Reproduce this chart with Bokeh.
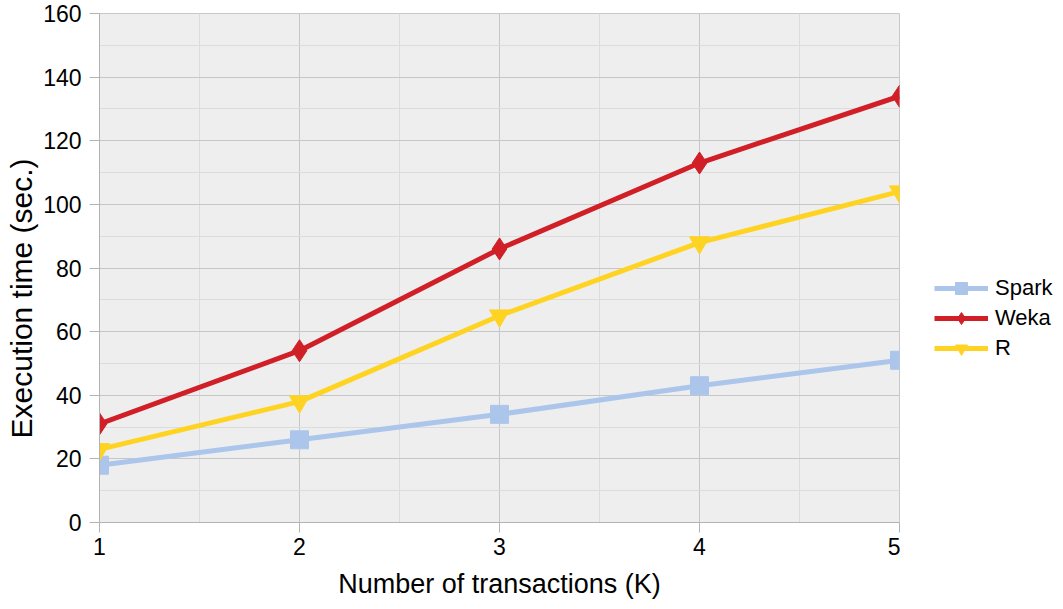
from bokeh.plotting import figure
from bokeh.layouts import row
from bokeh.models import Legend, LegendItem, FixedTicker, ColumnDataSource, Title
from bokeh.embed import file_html
from bokeh.resources import INLINE

transactions = [1, 2, 3, 4, 5]
spark = [18, 26, 34, 43, 51]
weka = [31, 54, 86, 113, 134]
r_vals = [23, 38, 65, 88, 104]
y_ticks = [0, 20, 40, 60, 80, 100, 120, 140, 160]
series_names = ["Spark", "Weka", "R"]

FONT = "Liberation Sans"
c_spark = "#abc6ea"
c_weka = "#d01f26"
c_r = "#ffd322"

p = figure(width=900, height=601, output_backend="svg", toolbar_location=None,
           x_range=(1, 5), y_range=(0, 160),
           min_border_left=99, min_border_top=13, min_border_bottom=78, min_border_right=1)
p.background_fill_color = "#eeeeee"
p.border_fill_color = "white"
p.outline_line_color = "#c8c8c8"

p.xaxis.ticker = FixedTicker(ticks=transactions, minor_ticks=[1.5, 2.5, 3.5, 4.5])
p.yaxis.ticker = FixedTicker(ticks=y_ticks, minor_ticks=list(range(10, 160, 20)))

for ax in (p.xaxis, p.yaxis):
    ax.axis_line_color = "#b3b3b3"
    ax.major_tick_line_color = "#b3b3b3"
    ax.major_tick_in = 0
    ax.major_tick_out = 10
    ax.minor_tick_line_color = None
    ax.major_label_text_font = FONT
    ax.major_label_text_font_size = "23px"
    ax.major_label_text_color = "black"
    ax.axis_label_text_font = FONT
    ax.axis_label_text_font_style = "normal"
    ax.axis_label_text_color = "black"

p.xaxis.axis_label = "Number of transactions (K)"
p.xaxis.axis_label_text_font_size = "27px"
p.xaxis.axis_label_standoff = 11
p.xaxis.major_label_standoff = 5
p.yaxis.major_label_standoff = 8

ylab = Title(text="Execution time (sec.)", align="left", offset=84,
             text_font=FONT, text_font_size="30px", text_font_style="normal",
             text_color="black", standoff=5)
p.add_layout(ylab, "left")

p.xgrid.grid_line_color = "#c6c6c6"
p.ygrid.grid_line_color = "#c6c6c6"
p.xgrid.minor_grid_line_color = "#dcdcdc"
p.ygrid.minor_grid_line_color = "#dcdcdc"

src = ColumnDataSource(dict(x=transactions, spark=spark, weka=weka, r=r_vals))

p.line("x", "spark", source=src, line_color=c_spark, line_width=5)
p.scatter("x", "spark", source=src, marker="square", size=18, color=c_spark)
p.line("x", "weka", source=src, line_color=c_weka, line_width=5)
p.scatter("x", "weka", source=src, marker="diamond", size=22, color=c_weka)
p.line("x", "r", source=src, line_color=c_r, line_width=5)
p.scatter("x", "r", source=src, marker="inverted_triangle", size=20, color=c_r)

# legend panel (its renderers use the same data, kept outside the visible range)
lg = figure(width=155, height=601, output_backend="svg", toolbar_location=None,
            x_axis_type=None, y_axis_type=None, min_border=0,
            x_range=(-2, -1), y_range=(-2, -1))
lg.outline_line_color = None
lg.background_fill_color = "white"
lg.grid.visible = False
items = []
for name, col, mk, sz, key in zip(series_names, [c_spark, c_weka, c_r],
                                  ["square", "diamond", "inverted_triangle"], [18, 22, 20],
                                  ["spark", "weka", "r"]):
    rl = lg.line("x", key, source=src, line_color=col, line_width=5)
    rm = lg.scatter("x", key, source=src, marker=mk, size=sz, color=col)
    items.append(LegendItem(label=name, renderers=[rl, rm]))

legend = Legend(items=items, location=(34, 159), border_line_color=None,
                background_fill_alpha=0,
                label_text_font=FONT, label_text_font_size="22px",
                label_text_color="black",
                glyph_width=54, glyph_height=30, spacing=0, label_standoff=7,
                padding=0, margin=0)
lg.add_layout(legend, "center")

layout = row(p, lg, spacing=0)
open("out.html", "w").write(file_html(layout, INLINE))
